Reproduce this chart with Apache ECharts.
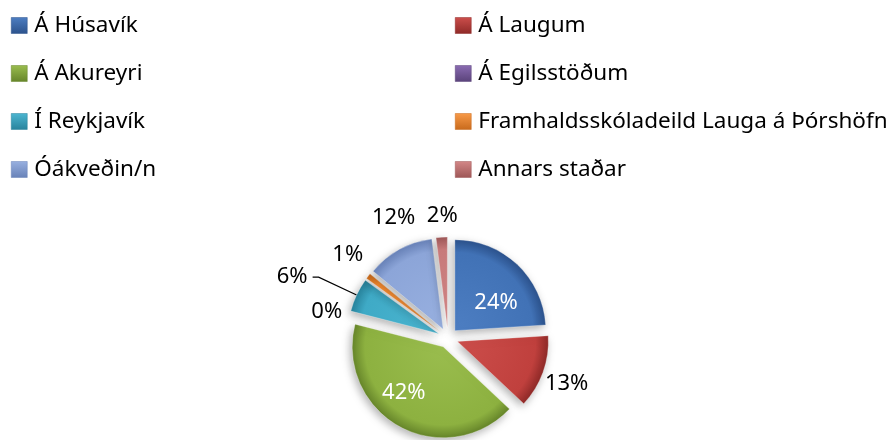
<!DOCTYPE html>
<html><head><meta charset="utf-8">
<script src="https://cdn.jsdelivr.net/npm/echarts@6/dist/echarts.min.js"></script>
<style>html,body{margin:0;padding:0;background:#fff}#c{width:893px;height:440px}</style>
</head><body><div id="c"></div>
<script>
// ---- data ----
const categories = ['Á Húsavík', 'Á Laugum', 'Á Akureyri', 'Á Egilsstöðum', 'Í Reykjavík',
  'Framhaldsskóladeild Lauga á Þórshöfn', 'Óákveðin/n', 'Annars staðar'];
const values = [24, 13, 42, 0, 6, 1, 12, 2];
const leftLegend = [categories[0], categories[2], categories[4], categories[6]];
const rightLegend = [categories[1], categories[3], categories[5], categories[7]];

// ---- styles ----
const PIE_CX = 448, PIE_CY = 338, PIE_R = 91;
const colorSets = [
  ['#4D7EC2', '#4172B6', '#2C528C'],
  ['#CC4E4B', '#C0403D', '#8F2A28'],
  ['#9ABD4E', '#8DB140', '#66852A'],
  ['#8A6BB2', '#7E5FA6', '#5A437A'],
  ['#4CB6D1', '#3FAAC6', '#28839C'],
  ['#F89A48', '#F48A2E', '#C86A1C'],
  ['#98B0E0', '#8CA5D8', '#6882B8'],
  ['#D38787', '#C97B7B', '#9E5757']
];
const insideLabel = [true, false, true, false, false, false, false, false];
const lineShown = [false, false, false, false, true, false, false, false];
const lineLen = [0, 2, 0, 0, 42, 0, 0, 0];
const lineLen2 = [0, 0, 0, 0, 6, 0, 0, 0];
const labelShift = [[8, 7], [-5, 11], [-16, 3], [-3, -1], [0, 0], [0, -21], [21, -32], [21, -21]];
const FONT = 'Noto Sans';

function grad(i) {
  const c = colorSets[i];
  return {
    type: 'radial', x: PIE_CX, y: PIE_CY, r: PIE_R, global: true,
    colorStops: [
      { offset: 0, color: c[0] },
      { offset: 0.86, color: c[1] },
      { offset: 1, color: c[2] }
    ]
  };
}
function legendIcon(i) {
  const c = colorSets[i];
  return {
    type: 'linear', x: 0, y: 0, x2: 0, y2: 1,
    colorStops: [{ offset: 0, color: c[0] }, { offset: 1, color: c[2] }]
  };
}

const seriesData = categories.map((name, i) => ({
  name: name,
  value: values[i],
  selected: true,
  itemStyle: { color: grad(i) },
  label: insideLabel[i]
    ? { position: 'inside', color: '#ffffff' }
    : { position: 'outside', color: '#000000' },
  labelLine: { show: lineShown[i], length: lineLen[i], length2: lineLen2[i] }
}));

function legendData(names) {
  return names.map(n => {
    const i = categories.indexOf(n);
    return { name: n, itemStyle: { color: legendIcon(i), borderColor: colorSets[i][2], borderWidth: 0.5 } };
  });
}

const chart = echarts.init(document.getElementById('c'), null, { renderer: 'canvas' });
const legendCommon = {
  orient: 'vertical',
  top: 9,
  padding: 5,
  itemWidth: 16,
  itemHeight: 16,
  itemGap: 25,
  icon: 'rect',
  selectedMode: false,
  textStyle: { fontFamily: FONT, fontSize: 22.5, color: '#000', lineHeight: 22, padding: [0, 0, 0, 2] }
};
chart.setOption({
  animation: false,
  backgroundColor: '#ffffff',
  legend: [
    Object.assign({}, legendCommon, { left: 6, data: legendData(leftLegend) }),
    Object.assign({}, legendCommon, { left: 450, data: legendData(rightLegend) })
  ],
  series: [{
    type: 'pie',
    center: [PIE_CX, PIE_CY],
    radius: PIE_R,
    startAngle: 90,
    clockwise: true,
    selectedMode: 'multiple',
    selectedOffset: 10,
    avoidLabelOverlap: false,
    emphasis: { disabled: true },
    itemStyle: {
      borderColor: 'rgba(255,255,255,0.3)',
      borderWidth: 1,
      shadowBlur: 8,
      shadowColor: 'rgba(0,0,0,0.3)',
      shadowOffsetX: -2,
      shadowOffsetY: 3
    },
    label: {
      formatter: '{c}%',
      fontFamily: FONT,
      fontSize: 22
    },
    labelLine: { lineStyle: { color: '#000', width: 1.2 }, smooth: false },
    labelLayout: function (p) {
      const s = labelShift[p.dataIndex];
      return { dx: s[0], dy: s[1] };
    },
    data: seriesData
  }]
});
</script>
</body></html>
